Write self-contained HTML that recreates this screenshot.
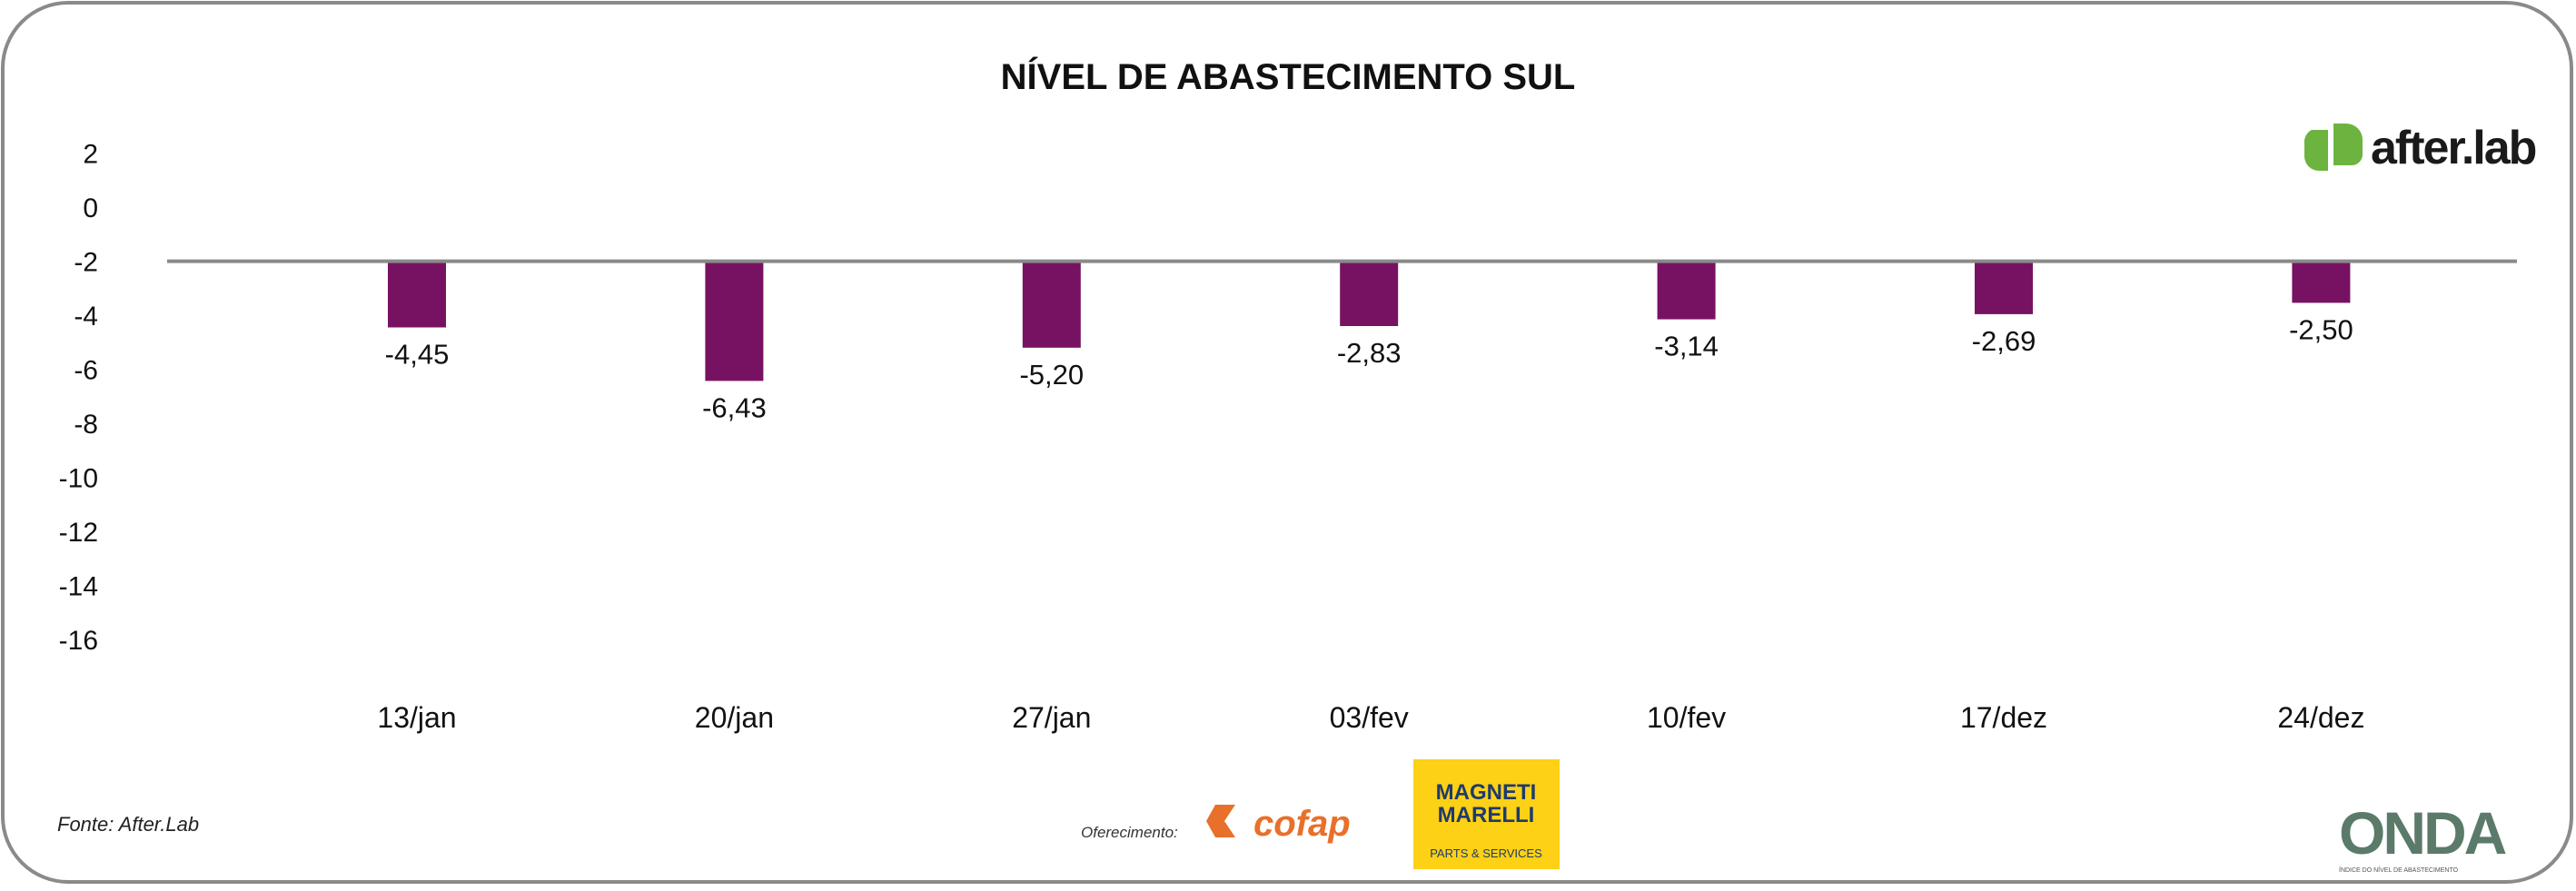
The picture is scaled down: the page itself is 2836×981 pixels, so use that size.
<!DOCTYPE html>
<html><head><meta charset="utf-8"><style>
html,body{margin:0;padding:0;background:#fff;}
body{width:2836px;height:976px;position:relative;overflow:hidden;font-family:"Liberation Sans",sans-serif;}
</style></head><body>
<svg width="2836" height="976" viewBox="0 0 2836 976" xmlns="http://www.w3.org/2000/svg">
<rect x="3" y="3" width="2828" height="968" rx="72" ry="72" fill="#fff" stroke="#8a8a8a" stroke-width="4"/>
<text x="1418" y="98" text-anchor="middle" font-size="40" font-weight="bold" fill="#111">NÍVEL DE ABASTECIMENTO SUL</text>
<g id="yaxis"></g>
<g id="bars"></g>
<g id="xaxis"></g>
<line id="baseline" x1="184" x2="2771" stroke="#8a8a8a" stroke-width="4"/>
<g>
<path d="M2545 143 h18 v45 h-10 a16 16 0 0 1 -16 -16 v-14 a15 15 0 0 1 8 -15z" fill="#6db33f"/>
<path d="M2569 136 h14 a18 18 0 0 1 18 18 v16 a12 12 0 0 1 -12 12 h-20z" fill="#6db33f"/>
<text x="2610" y="180" font-size="52" font-weight="bold" fill="#1a1a1a" letter-spacing="-2">after.lab</text>
</g>
<text x="63" y="915" font-size="22" font-style="italic" fill="#222">Fonte: After.Lab</text>
<text x="1190" y="922" font-size="17" font-style="italic" fill="#333">Oferecimento:</text>
<g>
<path d="M1338 886 h22 l-12 18 l12 18 h-22 l-10 -18z" fill="#e8702a"/>
<text x="1380" y="920" font-size="40" font-weight="bold" font-style="italic" fill="#e8702a">cofap</text>
</g>
<g>
<rect x="1556" y="836" width="161" height="121" fill="#fcd116"/>
<text x="1636" y="880" text-anchor="middle" font-size="24" font-weight="bold" fill="#1f3a6e">MAGNETI</text>
<text x="1636" y="905" text-anchor="middle" font-size="24" font-weight="bold" fill="#1f3a6e">MARELLI</text>
<text x="1636" y="944" text-anchor="middle" font-size="13" fill="#1f3a6e">PARTS &amp; SERVICES</text>
</g>
<g>
<text x="2575" y="940" font-size="66" font-weight="bold" fill="#5b7a6a" letter-spacing="-3">ONDA</text>
<text x="2575" y="960" font-size="7" fill="#555">ÍNDICE DO NÍVEL DE ABASTECIMENTO</text>
</g>
</svg>
<script>
const categories = ["13/jan","20/jan","27/jan","03/fev","10/fev","17/dez","24/dez"];
const values = [-4.45,-6.43,-5.20,-4.40,-4.15,-3.96,-3.54];
const valueLabels = ["-4,45","-6,43","-5,20","-2,83","-3,14","-2,69","-2,50"];
const yTicks = [2,0,-2,-4,-6,-8,-10,-12,-14,-16];
const baseValue = -2;
const NS="http://www.w3.org/2000/svg";
function y(v){return 287.6-(v-baseValue)*29.75;}
function x(i){return 459+i*349.4;}
const ya=document.getElementById('yaxis'),bars=document.getElementById('bars'),xa=document.getElementById('xaxis');
document.getElementById('baseline').setAttribute('y1',y(baseValue));
document.getElementById('baseline').setAttribute('y2',y(baseValue));
yTicks.forEach(t=>{
 const e=document.createElementNS(NS,'text');
 e.setAttribute('x',108);e.setAttribute('y',y(t)+11);e.setAttribute('text-anchor','end');
 e.setAttribute('font-size','30');e.setAttribute('fill','#111');
 
 
 e.textContent=t;ya.appendChild(e);
});
categories.forEach((c,i)=>{
 const v=values[i],top=y(Math.max(v,baseValue)),bot=y(Math.min(v,baseValue));
 const r=document.createElementNS(NS,'rect');
 r.setAttribute('x',x(i)-32);r.setAttribute('width',64);r.setAttribute('y',top);r.setAttribute('height',bot-top);
 r.setAttribute('fill','#771262');
 
 
 bars.appendChild(r);
 const l=document.createElementNS(NS,'text');
 l.setAttribute('x',x(i));l.setAttribute('y',bot+40);l.setAttribute('text-anchor','middle');
 l.setAttribute('font-size','31');l.setAttribute('fill','#111');
 
 
 l.textContent=valueLabels[i];bars.appendChild(l);
 const xl=document.createElementNS(NS,'text');
 xl.setAttribute('x',x(i));xl.setAttribute('y',801);xl.setAttribute('text-anchor','middle');
 xl.setAttribute('font-size','32');xl.setAttribute('fill','#111');
 
 
 xl.textContent=c;xa.appendChild(xl);
});
</script>
</body></html>
